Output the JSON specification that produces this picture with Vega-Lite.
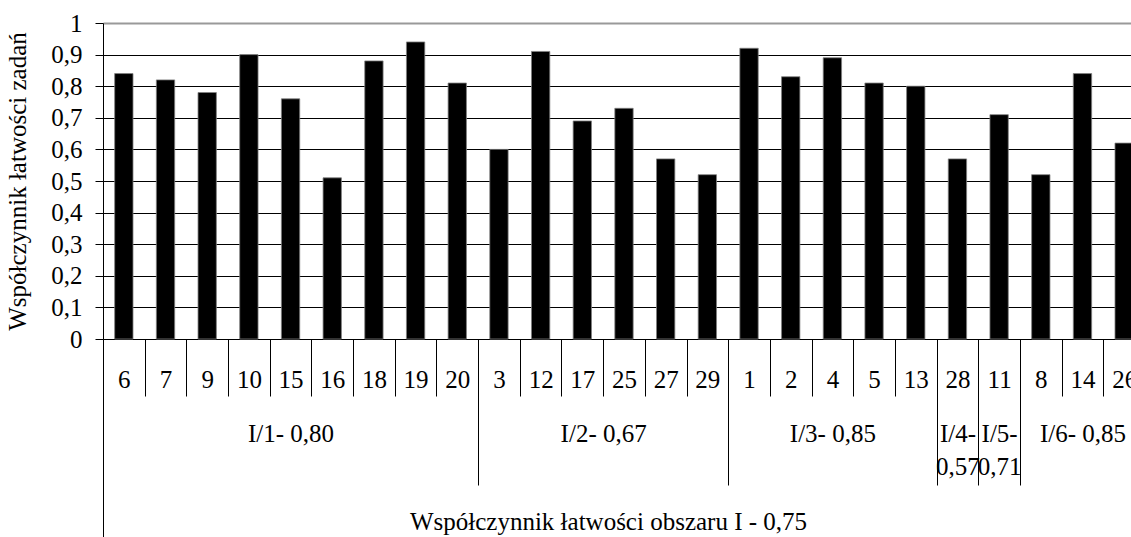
{
  "$schema": "https://vega.github.io/schema/vega-lite/v6.json",
  "width": 1042,
  "height": 316,
  "autosize": {"type": "none"},
  "padding": {"left": 103, "top": 23, "right": -14, "bottom": 198},
  "config": {
    "view": {"stroke": null},
    "font": "Liberation Serif",
    "axis": {
      "labelFont": "Liberation Serif",
      "titleFont": "Liberation Serif",
      "labelFontSize": 25,
      "titleFontSize": 25,
      "labelColor": "#000",
      "titleColor": "#000",
      "titleFontWeight": "normal",
      "domainColor": "#000",
      "tickColor": "#000",
      "tickWidth": 1,
      "domainWidth": 1
    }
  },
  "data": {
    "values": [
      {"zadanie": "6", "grupa": "I/1- 0,80", "wsp": 0.84},
      {"zadanie": "7", "grupa": "I/1- 0,80", "wsp": 0.82},
      {"zadanie": "9", "grupa": "I/1- 0,80", "wsp": 0.78},
      {"zadanie": "10", "grupa": "I/1- 0,80", "wsp": 0.90},
      {"zadanie": "15", "grupa": "I/1- 0,80", "wsp": 0.76},
      {"zadanie": "16", "grupa": "I/1- 0,80", "wsp": 0.51},
      {"zadanie": "18", "grupa": "I/1- 0,80", "wsp": 0.88},
      {"zadanie": "19", "grupa": "I/1- 0,80", "wsp": 0.94},
      {"zadanie": "20", "grupa": "I/1- 0,80", "wsp": 0.81},
      {"zadanie": "3", "grupa": "I/2- 0,67", "wsp": 0.60},
      {"zadanie": "12", "grupa": "I/2- 0,67", "wsp": 0.91},
      {"zadanie": "17", "grupa": "I/2- 0,67", "wsp": 0.69},
      {"zadanie": "25", "grupa": "I/2- 0,67", "wsp": 0.73},
      {"zadanie": "27", "grupa": "I/2- 0,67", "wsp": 0.57},
      {"zadanie": "29", "grupa": "I/2- 0,67", "wsp": 0.52},
      {"zadanie": "1", "grupa": "I/3- 0,85", "wsp": 0.92},
      {"zadanie": "2", "grupa": "I/3- 0,85", "wsp": 0.83},
      {"zadanie": "4", "grupa": "I/3- 0,85", "wsp": 0.89},
      {"zadanie": "5", "grupa": "I/3- 0,85", "wsp": 0.81},
      {"zadanie": "13", "grupa": "I/3- 0,85", "wsp": 0.80},
      {"zadanie": "28", "grupa": "I/4- 0,57", "wsp": 0.57},
      {"zadanie": "11", "grupa": "I/5- 0,71", "wsp": 0.71},
      {"zadanie": "8", "grupa": "I/6- 0,85", "wsp": 0.52},
      {"zadanie": "14", "grupa": "I/6- 0,85", "wsp": 0.84},
      {"zadanie": "26", "grupa": "I/6- 0,85", "wsp": 0.62}
    ]
  },
  "layer": [
    {
      "mark": {"type": "bar", "color": "#000", "stroke": "#808080", "strokeWidth": 0.8},
      "encoding": {
        "x": {
          "field": "zadanie",
          "type": "nominal",
          "sort": null,
          "scale": {"paddingInner": 0.56, "paddingOuter": 0.28},
          "axis": {
            "orient": "bottom",
            "labelFont": "Liberation Serif",
            "titleFont": "Liberation Serif",
            "labelAngle": 0,
            "tickOffset": 20.84,
            "labelOffset": -20.84,
            "tickSize": 57,
            "labelBaseline": "top",
            "labelPadding": -28.6,
            "labelOverlap": false,
            "title": "Współczynnik łatwości obszaru I - 0,75",
            "titlePadding": 113,
            "titleX": 505
          }
        },
        "y": {
          "field": "wsp",
          "type": "quantitative",
          "scale": {"domain": [0, 1], "nice": false, "zero": true},
          "axis": {
            "title": "Współczynnik łatwości zadań",
            "labelFont": "Liberation Serif",
            "titleFont": "Liberation Serif",
            "values": [0, 0.1, 0.2, 0.3, 0.4, 0.5, 0.6, 0.7, 0.8, 0.9, 1],
            "labelExpr": "replace(format(datum.value, '.1~f'), '.', ',')",
            "tickSize": 8,
            "labelPadding": 13,
            "titlePadding": 20,
            "grid": true,
            "gridColor": {"condition": {"test": "datum.value == 1", "value": "#999999"}, "value": "#000000"},
            "gridWidth": {"condition": {"test": "datum.value == 1", "value": 2}, "value": 1},
            "gridOpacity": 1
          }
        }
      }
    },
    {
      "mark": {"type": "rule", "opacity": 0},
      "encoding": {
        "x": {
          "field": "zadanie",
          "type": "nominal",
          "sort": null,
          "axis": {
            "orient": "bottom",
            "labelFont": "Liberation Serif",
            "domain": false,
            "labelAngle": 0,
            "tickOffset": 20.84,
            "tickSize": 146,
            "tickOpacity": {"condition": {"test": "indexof(['20','29','13','28','11'], datum.value) >= 0", "value": 1}, "value": 0},
            "labelExpr": "datum.value == '15' ? 'I/1- 0,80' : datum.value == '25' ? 'I/2- 0,67' : datum.value == '4' ? 'I/3- 0,85' : datum.value == '28' ? ['I/4-', '0,57'] : datum.value == '11' ? ['I/5-', '0,71'] : datum.value == '14' ? 'I/6- 0,85' : ''",
            "labelOffset": {"condition": {"test": "datum.value == '25'", "value": -41.68}, "value": -20.84},
            "labelBaseline": "top",
            "labelPadding": -64,
            "labelLineHeight": 33,
            "labelOverlap": false,
            "labelFlush": false,
            "title": null
          }
        }
      }
    },
    {
      "mark": {"type": "rule", "opacity": 0},
      "encoding": {
        "x": {
          "field": "zadanie",
          "type": "nominal",
          "sort": null,
          "axis": {
            "orient": "bottom",
            "domain": false,
            "labels": false,
            "tickOffset": -20.84,
            "tickSize": 210,
            "tickOpacity": {"condition": {"test": "datum.value == '6'", "value": 1}, "value": 0},
            "title": null
          }
        }
      }
    }
  ],
  "resolve": {"axis": {"x": "independent"}}
}
